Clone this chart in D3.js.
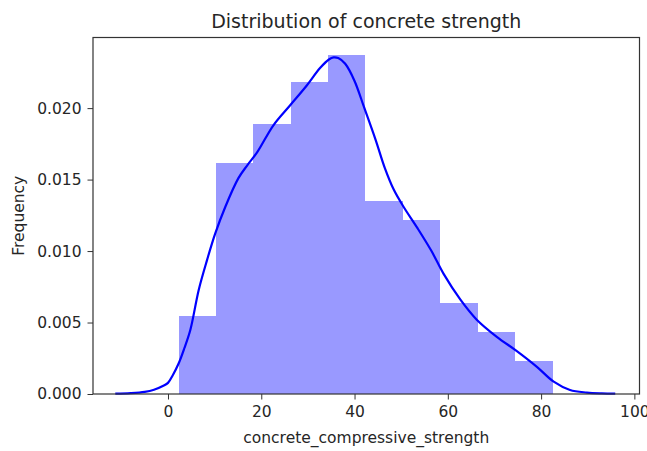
<!DOCTYPE html>
<html>
<head>
<meta charset="utf-8">
<script src="https://cdn.jsdelivr.net/npm/d3@7"></script>
<style>
  body { margin: 0; background: #fff; }
  text { font-family: "DejaVu Sans", sans-serif; fill: #262626; }
</style>
</head>
<body>
<div id="viz"></div>
<script>

// histogram bins (edges and density heights)
const binEdges = [2.33, 10.3, 18.3, 26.3, 34.3, 42.3, 50.4, 58.4, 66.4, 74.5, 82.6];
const binDensity = [0.00548, 0.01617, 0.01888, 0.02184, 0.02371, 0.01352, 0.01217, 0.00634, 0.00436, 0.00231];

// kde curve
const kdeX = [-11.3, -8, -5, -3, -1, 0, 1, 2.3, 3.5, 4.8, 6.6, 8.4, 10.1, 12.3, 15.1, 17, 19.1, 22.6, 26.2, 29.8, 32.6, 34.5, 35.5, 36.5, 38, 40, 42, 44.5, 46.5, 48.4, 50.5, 53.5, 56.5, 59.1, 62.7, 66.2, 70.5, 74.8, 79.1, 82.7, 86.2, 89.8, 93, 95.9];
const kdeY = [0.00002, 0.00006, 0.00015, 0.0003, 0.00058, 0.00078, 0.0013, 0.00215, 0.0032, 0.0045, 0.0073, 0.0094, 0.0112, 0.0131, 0.0151, 0.016, 0.0169, 0.0188, 0.0202, 0.0216, 0.0228, 0.0234, 0.02355, 0.0235, 0.0231, 0.0219, 0.0201, 0.0178, 0.0158, 0.0143, 0.0131, 0.0116, 0.01, 0.0084, 0.0066, 0.0052, 0.004, 0.003, 0.0019, 0.00086, 0.00028, 0.0001, 0.00004, 0.00002];

const xTicks = [0, 20, 40, 60, 80, 100];
const yTicks = [0, 0.005, 0.010, 0.015, 0.020];

function draw() {

  // dimensions

  const dms = {
    width: 647,
    height: 451,
    margins: {
      top: 37.5,
      bottom: 57,
      left: 93,
      right: 7.5
    }
  };
  dms.innerWidth = dms.width - dms.margins.left - dms.margins.right;
  dms.innerHeight = dms.height - dms.margins.top - dms.margins.bottom;

  // canvas

  const svg = d3.select("#viz")
                  .append("svg")
                    .attr("width", dms.width)
                    .attr("height", dms.height);

  const g = svg.append("g")
                 .attr("transform", `translate(${dms.margins.left},${dms.margins.top})`);

  // scales

  const xScale = d3.scaleLinear()
                     .domain([-16.08, 101.1])
                     .range([0, dms.innerWidth]);

  const yScale = d3.scaleLinear()
                     .domain([0, 0.02494])
                     .range([dms.innerHeight, 0]);

  // bars

  const bins = binDensity.map((v, i) => ({ x0: binEdges[i], x1: binEdges[i + 1], v }));

  g.selectAll("rect.bar")
     .data(bins)
     .enter()
     .append("rect")
       .attr("class", "bar")
       .attr("x", d => xScale(d.x0))
       .attr("width", d => xScale(d.x1) - xScale(d.x0))
       .attr("y", d => yScale(d.v))
       .attr("height", d => yScale(0) - yScale(d.v))
       .attr("fill", "#9999ff")
       .attr("shape-rendering", "crispEdges");

  // kde line

  const line = d3.line()
                   .x(d => xScale(d[0]))
                   .y(d => yScale(d[1]))
                   .curve(d3.curveCatmullRom.alpha(0.5));

  g.append("path")
     .datum(kdeX.map((x, i) => [x, kdeY[i]]))
     .attr("d", line)
     .attr("fill", "none")
     .attr("stroke", "#0000ff")
     .attr("stroke-width", 2.2);

  // axes

  const xAxis = d3.axisBottom(xScale)
                    .tickValues(xTicks)
                    .tickSize(5.5)
                    .tickPadding(4)
                    .tickFormat(d3.format("d"));

  const yAxis = d3.axisLeft(yScale)
                    .tickValues(yTicks)
                    .tickSize(5.5)
                    .tickPadding(6)
                    .tickFormat(d3.format(".3f"));

  const xg = g.append("g")
                .attr("transform", `translate(0,${dms.innerHeight})`)
                .call(xAxis);

  const yg = g.append("g").call(yAxis);

  [xg, yg].forEach(a => {
    a.select(".domain").remove();
    a.selectAll("line").attr("stroke", "#333");
    a.selectAll("text")
       .style("font-size", "15.5px")
       .style("font-family", "DejaVu Sans")
       .attr("fill", "#262626");
  });
  xg.selectAll("text").attr("dy", "0.9em");

  // frame

  g.append("rect")
     .attr("width", dms.innerWidth)
     .attr("height", dms.innerHeight)
     .attr("fill", "none")
     .attr("stroke", "#333")
     .attr("stroke-width", 1.2);

  // labels

  svg.append("text")
       .attr("x", dms.margins.left + dms.innerWidth / 2)
       .attr("y", 28)
       .attr("text-anchor", "middle")
       .style("font-size", "19px")
       .text("Distribution of concrete strength");

  svg.append("text")
       .attr("x", dms.margins.left + dms.innerWidth / 2)
       .attr("y", 443)
       .attr("text-anchor", "middle")
       .style("font-size", "15.5px")
       .text("concrete_compressive_strength");

  svg.append("text")
       .attr("transform", `translate(24,${dms.margins.top + dms.innerHeight / 2}) rotate(-90)`)
       .attr("text-anchor", "middle")
       .style("font-size", "15.5px")
       .text("Frequency");
}

draw();
</script>
</body>
</html>
